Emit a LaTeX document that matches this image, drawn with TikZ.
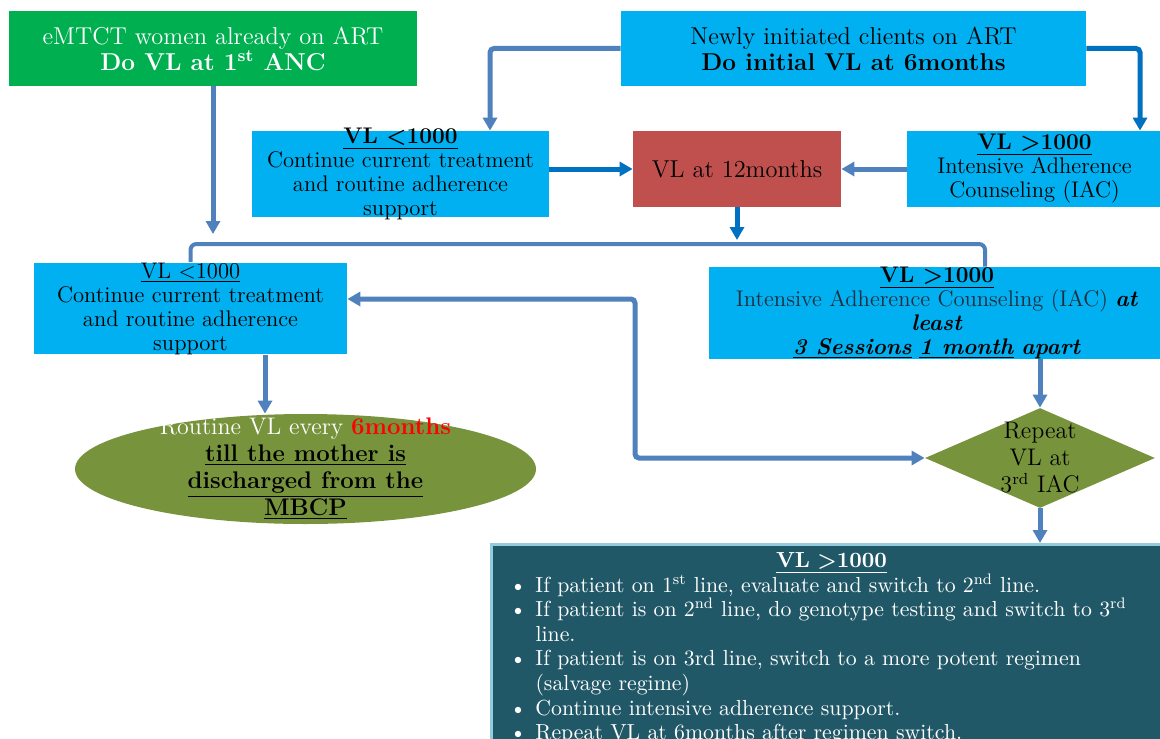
\documentclass[tikz,border=0pt]{standalone}
\usepackage{tikz}
\usetikzlibrary{arrows.meta, positioning, shapes.geometric, calc}
\definecolor{boxgreen}{HTML}{00B050}
\definecolor{boxcyan}{HTML}{00B0F0}
\definecolor{boxred}{HTML}{C0504D}
\definecolor{boxolive}{HTML}{77933C}
\definecolor{boxteal}{HTML}{215868}
\definecolor{boxrim}{HTML}{93CDDD}
\definecolor{linklight}{HTML}{4F81BD}
\definecolor{linkdark}{HTML}{0070C0}
\definecolor{slate}{HTML}{1F2D3D}
\newcommand{\bitem}[1]{\par\hangindent=14pt\hangafter=1\noindent\hbox to 14pt{\hspace{1pt}\textbullet\hfil}#1}

\begin{document}
\begin{tikzpicture}[x=0.5pt, y=-0.5pt,
    topbox/.style={rectangle, inner sep=0pt, minimum height=37.5pt, align=center, font=\fontsize{12.2}{13}\selectfont},
    midbox/.style={rectangle, fill=boxcyan, inner sep=0pt, align=center, font=\fontsize{11.3}{12}\selectfont},
    bigtext/.style={align=center, font=\fontsize{12}{13.5}\selectfont},
    lt/.style={draw=linklight, line width=2.5pt, -{Triangle[width=7pt,length=6.5pt]}, rounded corners=2pt},
    dk/.style={lt, draw=linkdark},
    both/.style={lt, {Triangle[width=7pt,length=6.5pt]}-{Triangle[width=7pt,length=6.5pt]}},
    bracket/.style={draw=linklight, line width=2pt, rounded corners=3pt}]
  \useasboundingbox (0,0) rectangle (1160,738);

  \node[topbox, fill=boxgreen, text=white, minimum width=204pt] (emtct) at (213,48.5)
    {eMTCT women already on ART\\\textbf{Do VL at 1\textsuperscript{st} ANC}};
  \node[topbox, fill=boxcyan, minimum width=232.5pt] (newart) at (853.5,48.5)
    {Newly initiated clients on ART\\\textbf{Do initial VL at 6months}};

  \node[midbox, minimum width=148.5pt, minimum height=43pt,
    label={[midbox, fill=none]center:\underline{\textbf{VL <1000}}\\Continue current treatment\\and routine adherence\\support}] (low1) at (400.5,174) {};
  \node[rectangle, fill=boxred, minimum width=104pt, minimum height=38pt, font=\fontsize{12.2}{13}\selectfont] (twelve) at (737,169) {VL at 12months};
  \node[midbox, minimum width=127.5pt, minimum height=38pt] (high1) at (1034.5,169)
    {\underline{\textbf{VL >1000}}\\Intensive Adherence\\Counseling (IAC)};

  \node[midbox, minimum width=156.5pt, minimum height=45.5pt] (low2) at (190.5,308.5)
    {\underline{VL <1000}\\Continue current treatment\\and routine adherence\\support};
  \node[midbox, minimum width=228pt, minimum height=45pt] (high2) at (937,313)
    {\underline{\textbf{VL >1000}}\\\textcolor{slate}{Intensive Adherence Counseling (IAC)} \textbf{\textit{at}}\\\textbf{\textit{least}}\\\underline{\textbf{\textit{3 Sessions}}} \underline{\textbf{\textit{1 month}}} \textbf{\textit{apart}}};

  \node[ellipse, fill=boxolive, minimum width=230.5pt, minimum height=55pt, inner sep=0pt,
    label={[bigtext]center:\textcolor{white}{Routine VL every} \textcolor{red}{\textbf{6months}}\\\underline{\textbf{till the mother is}}\\\underline{\textbf{discharged from the}}\\\underline{\textbf{MBCP}}}] (routine) at (305.5,469) {};
  \node[diamond, fill=boxolive, minimum width=115pt, minimum height=50pt, inner sep=0pt,
    label={[bigtext]center:Repeat\\VL at\\3\textsuperscript{rd} IAC}] (repeat) at (1040,458) {};

  \node[draw=boxrim, line width=1.5pt, fill=boxteal, text=white, anchor=north west, text width=324pt,
    inner xsep=8pt, inner ysep=4pt, align=left, font=\fontsize{10.9}{12.3}\selectfont] (final) at (490,543)
    {{\centering\underline{\textbf{VL >1000}}\par}
     \bitem{If patient on 1\textsuperscript{st} line, evaluate and switch to 2\textsuperscript{nd} line.}
     \bitem{If patient is on 2\textsuperscript{nd} line, do genotype testing and switch to 3\textsuperscript{rd}\newline line.}
     \bitem{If patient is on 3rd line, switch to a more potent regimen\newline (salvage regime)}
     \bitem{Continue intensive adherence support.}
     \bitem{Repeat VL at 6months after regimen switch.}};

  \coordinate (barL) at (187,244);
  \coordinate (barR) at (985,244);
  \coordinate (loop) at (635,299);

  \draw[lt, shorten >=5pt] (emtct.south) -- (emtct.south |- barL);
  \draw[lt] (newart.west) -| ($(low1.north)+(89.5,0)$);
  \draw[dk] (newart.east) -| ($(high1.north)+(105.5,0)$);
  \draw[dk] (twelve.west -| low1.east) -- (twelve.west);
  \draw[lt] (high1.west) -- (twelve.east);
  \draw[dk, shorten >=2pt] (twelve.south) -- (twelve.south |- barL);
  \draw[bracket] (low2.north) -- (low2.north |- barL) -- (barR) -- (barR |- high2.north);
  \draw[both] (loop -| low2.east) -- (loop) |- (repeat.west);
  \draw[lt] ($(low2.south)+(74.5,0)$) -- ($(routine.north)+(-40.5,0)$);
  \draw[lt] (repeat.north |- high2.south) -- (repeat.north);
  \draw[lt] (repeat.south) -- (repeat.south |- final.north);
\end{tikzpicture}
\end{document}
